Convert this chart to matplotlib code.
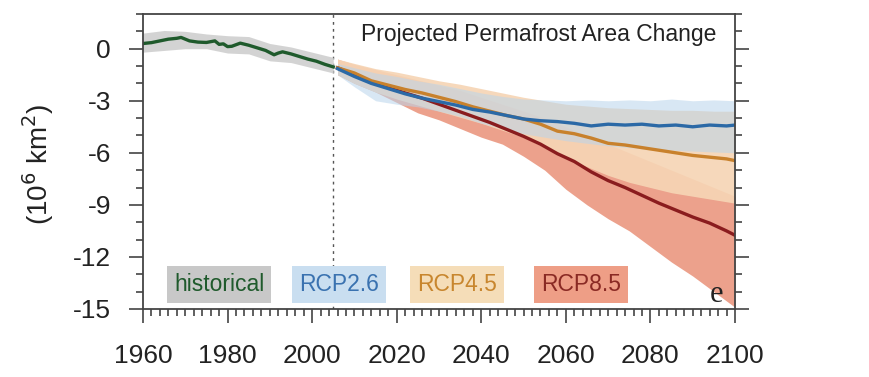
import matplotlib
matplotlib.use("Agg")
import matplotlib.pyplot as plt
from matplotlib.ticker import MultipleLocator

plt.rcParams['font.family'] = ['Liberation Sans', 'DejaVu Sans']

# ---- data ----
hist_years = [1960, 1962, 1964, 1966, 1968, 1969, 1971, 1973, 1975, 1977, 1978, 1979,
              1980, 1981, 1983, 1985, 1987, 1989, 1991, 1992, 1993, 1995, 1997, 1999,
              2001, 2003, 2005]
hist_vals = [0.3, 0.35, 0.45, 0.55, 0.6, 0.65, 0.45, 0.38, 0.36, 0.45, 0.25, 0.28,
             0.12, 0.14, 0.32, 0.2, 0.05, -0.1, -0.35, -0.25, -0.18, -0.3, -0.45, -0.6,
             -0.72, -0.9, -1.05]
hist_band_years = [1960, 1965, 1970, 1975, 1980, 1985, 1990, 1995, 2000, 2005]
hist_hi = [0.9, 1.05, 1.0, 0.85, 0.75, 0.7, 0.3, 0.1, -0.2, -0.5]
hist_lo = [-0.2, -0.1, 0.0, 0.0, -0.25, -0.3, -0.7, -0.8, -1.1, -1.4]

proj_years = [2006, 2010, 2014, 2018, 2022, 2026, 2030, 2034, 2038, 2042, 2046, 2050,
              2054, 2058, 2062, 2066, 2070, 2074, 2078, 2082, 2086, 2090, 2094, 2098, 2100]
rcp26 = [-1.15, -1.6, -2.0, -2.3, -2.6, -2.85, -3.05, -3.25, -3.5, -3.65, -3.85, -4.05,
         -4.15, -4.2, -4.3, -4.45, -4.35, -4.4, -4.35, -4.45, -4.4, -4.5, -4.4, -4.45, -4.4]
rcp45 = [-1.1, -1.4, -1.85, -2.1, -2.35, -2.55, -2.8, -3.05, -3.35, -3.6, -3.85, -4.05,
         -4.35, -4.75, -4.9, -5.15, -5.45, -5.55, -5.7, -5.85, -6.0, -6.15, -6.25, -6.35, -6.45]
rcp85 = [-1.1, -1.5, -1.95, -2.25, -2.55, -2.85, -3.2, -3.55, -3.9, -4.25, -4.65, -5.05,
         -5.5, -6.05, -6.5, -7.1, -7.6, -8.0, -8.45, -8.9, -9.3, -9.7, -10.05, -10.5, -10.75]

band_years = [2006, 2010, 2015, 2020, 2025, 2030, 2035, 2040, 2045, 2050, 2055, 2060,
              2065, 2070, 2075, 2080, 2085, 2090, 2095, 2100]
rcp26_hi = [-0.85, -1.1, -1.4, -1.6, -1.85, -2.05, -2.3, -2.55, -2.75, -2.9, -2.95, -3.0,
            -2.95, -3.0, -2.95, -3.0, -2.9, -3.0, -2.95, -3.0]
rcp26_lo = [-1.5, -2.2, -3.0, -3.2, -3.35, -3.6, -3.9, -4.3, -4.6, -4.9, -5.1, -5.3,
            -5.45, -5.6, -5.7, -5.8, -5.85, -5.9, -5.95, -6.0]
rcp45_hi = [-0.6, -0.85, -1.15, -1.35, -1.6, -1.85, -2.05, -2.3, -2.55, -2.8, -3.0, -3.2,
            -3.3, -3.4, -3.45, -3.5, -3.55, -3.55, -3.6, -3.6]
rcp45_lo = [-1.5, -2.0, -2.5, -2.9, -3.25, -3.6, -3.95, -4.3, -4.7, -5.1, -5.7, -6.3,
            -6.8, -7.3, -7.7, -8.0, -8.3, -8.5, -8.7, -8.9]
rcp85_hi = [-0.6, -0.9, -1.2, -1.5, -1.8, -2.1, -2.4, -2.8, -3.2, -3.6, -4.0, -4.5,
            -5.0, -5.5, -6.0, -6.5, -7.0, -7.5, -8.0, -8.5]
rcp85_lo = [-1.5, -2.0, -2.5, -3.1, -3.7, -4.1, -4.6, -5.1, -5.5, -6.2, -7.0, -8.1,
            -9.0, -9.8, -10.5, -11.4, -12.3, -13.1, -14.0, -14.9]

legend_labels = ["historical", "RCP2.6", "RCP4.5", "RCP8.5"]
legend_x = [1978, 2006.3, 2034.2, 2063.6]
title = "Projected Permafrost Area Change"
x_ticks = [1960, 1980, 2000, 2020, 2040, 2060, 2080, 2100]
y_ticks = [0, -3, -6, -9, -12, -15]

# ---- styling ----
c_hist, c_26, c_45, c_85 = '#1f5a2c', '#2b69a6', '#c8812c', '#8a1c1e'
fig = plt.figure(figsize=(8.7, 3.77), dpi=100)
ax = fig.add_axes([143/870, 1-309/377, 592/870, 295/377])

ax.fill_between(band_years, rcp85_lo, rcp85_hi, color='#eb9c86', lw=0, alpha=0.95)
ax.fill_between(band_years, rcp45_lo, rcp45_hi, color='#f6d5b5', lw=0, alpha=0.92)
ax.fill_between(band_years, rcp26_lo, rcp26_hi, color='#b9d5ec', lw=0, alpha=0.55)
ax.fill_between(hist_band_years, hist_lo, hist_hi, color='#cfcfcf', lw=0, alpha=0.9)

ax.plot(proj_years, rcp85, color=c_85, lw=2.4)
ax.plot(proj_years, rcp45, color=c_45, lw=2.4)
ax.plot(proj_years, rcp26, color=c_26, lw=2.4)
ax.plot(hist_years, hist_vals, color=c_hist, lw=2.4)

ax.axvline(2005, color='#555555', lw=1.0, ls=(0, (2, 3)), zorder=0)

ax.set_xlim(1960, 2100)
ax.set_ylim(-15, 2)
ax.set_xticks(x_ticks)
ax.set_yticks(y_ticks)
ax.set_yticklabels([str(v) for v in y_ticks])
ax.xaxis.set_minor_locator(MultipleLocator(2))
ax.yaxis.set_minor_locator(MultipleLocator(1))
ax.tick_params(axis='both', which='both', direction='out', colors='#444444', width=1.2)
ax.tick_params(axis='both', which='major', length=10, labelsize=19, labelcolor='#222222')
ax.tick_params(axis='both', which='minor', length=5)
ax.tick_params(axis='x', which='major', pad=15)
ax.tick_params(axis='y', which='major', pad=13)
ax.tick_params(axis='y', which='both', right=True)
for s in ax.spines.values():
    s.set_color('#444444')
    s.set_linewidth(1.3)

ax.text(0.968, 0.929, title, transform=ax.transAxes, ha='right', va='center',
        fontsize=16.5, color='#222222')
ax.text(0.968, 0.05, 'e', transform=ax.transAxes, ha='center', va='center',
        fontsize=22, family='Liberation Serif', color='#222222')

box_cols = ['#c8c8c8', '#c9def0', '#f5ddb8', '#ee9e86']
txt_cols = [c_hist, '#3a72b0', '#c8862e', '#8a2a24']
for lab, xv, bc, tc in zip(legend_labels, legend_x, box_cols, txt_cols):
    ax.text(xv, -13.6, lab, ha='center', va='center', fontsize=16.5, color=tc,
            bbox=dict(boxstyle='square,pad=0.3', fc=bc, ec='none'))

fig.text(38/870, 1-164/377, '(10$^6$ km$^2$)', rotation=90, ha='center', va='center',
         fontsize=20, color='#222222')

fig.savefig('out.png', dpi=100)
